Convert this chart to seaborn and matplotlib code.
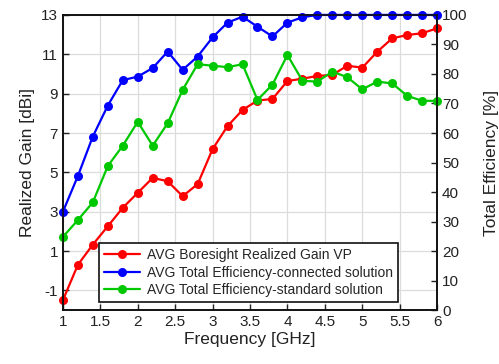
import numpy as np
import pandas as pd
import seaborn as sns
import matplotlib.pyplot as plt

# frequency points [GHz]
freq = [1.0, 1.2, 1.4, 1.6, 1.8, 2.0, 2.2, 2.4, 2.6, 2.8, 3.0, 3.2, 3.4,
        3.6, 3.8, 4.0, 4.2, 4.4, 4.6, 4.8, 5.0, 5.2, 5.4, 5.6, 5.8, 6.0]

# boresight realized gain VP [dBi] (left axis)
gain_vp = [-1.5, 0.3, 1.33, 2.26, 3.2, 3.96, 4.72, 4.55, 3.79, 4.4, 6.18, 7.35, 8.17,
           8.65, 8.73, 9.64, 9.76, 9.9, 9.95, 10.42, 10.32, 11.13, 11.81, 11.98, 12.07, 12.32]

# total efficiency [%] (right axis)
eff_connected = [33.3, 45.4, 58.8, 69.3, 77.9, 79.1, 82.0, 87.6, 81.4, 85.9, 92.4, 97.4, 99.4,
                 96.0, 92.7, 97.4, 99.2, 100, 100, 100, 100, 100, 100, 100, 100, 100]
eff_standard = [24.8, 30.5, 36.5, 48.8, 55.7, 63.8, 55.7, 63.3, 74.6, 83.3, 82.8, 82.3, 83.3,
                71.2, 76.4, 86.4, 77.7, 77.4, 80.8, 78.9, 74.8, 77.4, 76.8, 72.6, 70.9, 70.9]

labels = ['AVG Boresight Realized Gain VP',
          'AVG Total Efficiency-connected solution',
          'AVG Total Efficiency-standard solution']

df = pd.DataFrame({'freq': freq, 'gain': gain_vp,
                   'conn': eff_connected, 'std': eff_standard})

sns.set_style('ticks')
plt.rcParams['font.family'] = ['Liberation Sans', 'DejaVu Sans']
plt.rcParams['axes.unicode_minus'] = False

fig = plt.figure(figsize=(4.99, 3.64), dpi=100)
ax = fig.add_axes([0.126, 0.148, 0.75, 0.811])
ax2 = ax.twinx()

line_kw = dict(marker='o', markersize=6.5, linewidth=1.6, markeredgewidth=0, clip_on=False)
sns.lineplot(data=df, x='freq', y='gain', ax=ax, color='#ff0000', label=labels[0], **line_kw)
sns.lineplot(data=df, x='freq', y='conn', ax=ax2, color='#0000ff', label=labels[1], **line_kw)
sns.lineplot(data=df, x='freq', y='std', ax=ax2, color='#00c800', label=labels[2], **line_kw)

ax.set_xlim(1, 6)
ax.set_ylim(-2, 13)
ax2.set_ylim(0, 100)
ax.set_xticks([1, 1.5, 2, 2.5, 3, 3.5, 4, 4.5, 5, 5.5, 6])
ax.set_xticklabels(['1', '1.5', '2', '2.5', '3', '3.5', '4', '4.5', '5', '5.5', '6'])
ax.set_yticks([-1, 1, 3, 5, 7, 9, 11, 13])
ax2.set_yticks(range(0, 101, 10))

ax.grid(True, color='#dcdcdc', linewidth=0.9)
ax.set_axisbelow(True)

for a in (ax, ax2):
    a.tick_params(direction='in', length=4, width=1, labelsize=11, colors='#222222')
    for s in a.spines.values():
        s.set_color('#111111')
        s.set_linewidth(1.2)
    a.set_facecolor('none')
ax.set_facecolor('white')
ax2.set_zorder(ax.get_zorder() + 1)

ax.set_xlabel('Frequency [GHz]', fontsize=12.5, color='#222222', labelpad=2)
ax.set_ylabel('Realized Gain [dBi]', fontsize=12.5, color='#222222', labelpad=4)
ax2.set_ylabel('Total Efficiency [%]', fontsize=12.5, color='#222222', labelpad=12)

# combined legend from both axes
h1, l1 = ax.get_legend_handles_labels()
h2, l2 = ax2.get_legend_handles_labels()
ax.get_legend().remove()
ax2.get_legend().remove()
leg = ax2.legend(h1 + h2, l1 + l2, loc='lower left', bbox_to_anchor=(0.097, 0.028),
                 fontsize=10, frameon=True, fancybox=False, framealpha=1,
                 edgecolor='#111111', handlelength=2.6, borderpad=0.35,
                 labelspacing=0.25, handletextpad=0.5, borderaxespad=0)
leg.get_frame().set_linewidth(1.2)

fig.savefig('out.png', dpi=100)
